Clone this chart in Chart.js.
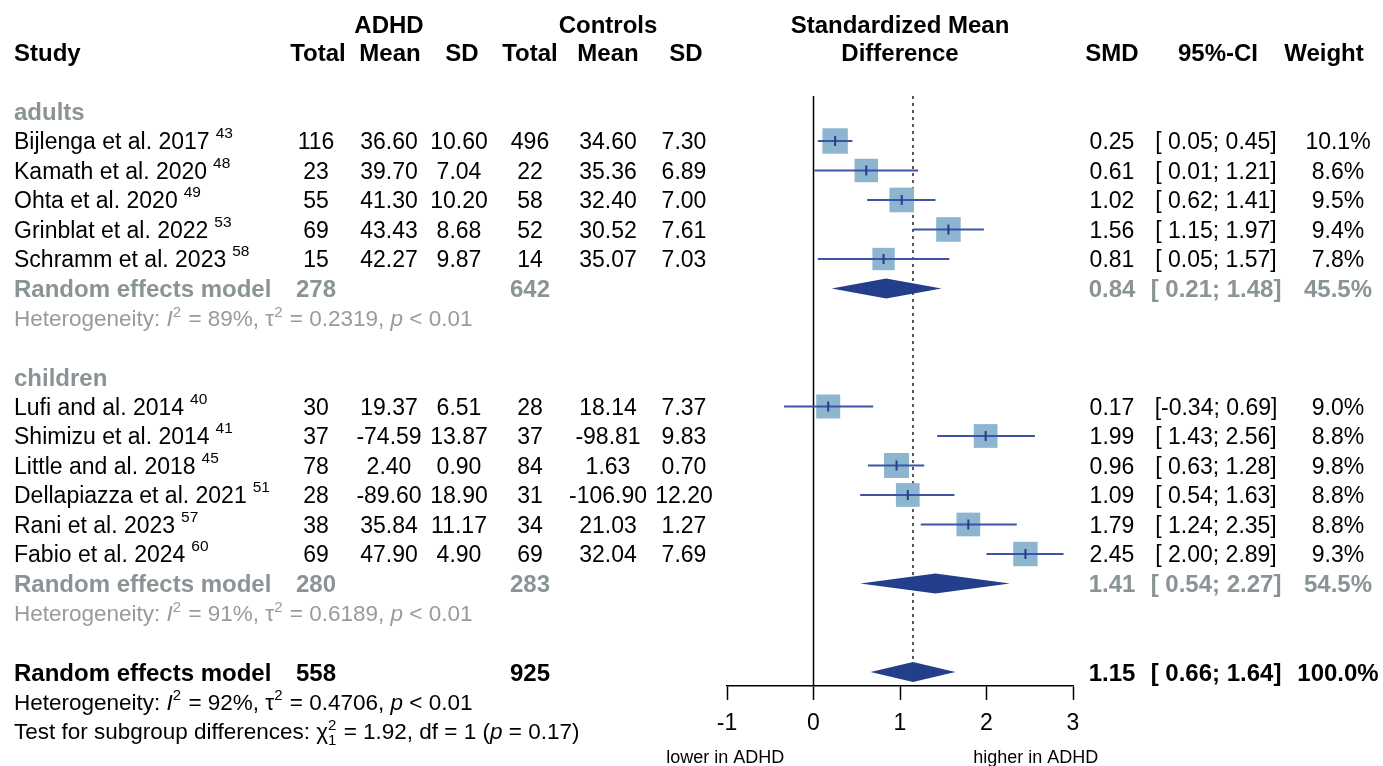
<!DOCTYPE html>
<html>
<head>
<meta charset="utf-8">
<script src="https://cdn.jsdelivr.net/npm/chart.js@4.4.1/dist/chart.umd.min.js"></script>
<style>
  html, body { margin: 0; padding: 0; background: #fff; }
  #wrap { width: 1383px; height: 766px; }
</style>
</head>
<body>
<div id="wrap"><canvas id="forest" width="1383" height="766"></canvas></div>
<script>
// subgroups and studies, top to bottom
const groups = ['adults', 'children'];
const groupSize = [5, 6];
const studies = ['Bijlenga et al. 2017', 'Kamath et al. 2020', 'Ohta et al. 2020', 'Grinblat et al. 2022', 'Schramm et al. 2023',
  'Lufi and al. 2014', 'Shimizu et al. 2014', 'Little and al. 2018', 'Dellapiazza et al. 2021', 'Rani et al. 2023', 'Fabio et al. 2024'];
const refs = ['43', '48', '49', '53', '58', '40', '41', '45', '51', '57', '60'];
const adhdTotal = [116, 23, 55, 69, 15, 30, 37, 78, 28, 38, 69];
const adhdMean = [36.60, 39.70, 41.30, 43.43, 42.27, 19.37, -74.59, 2.40, -89.60, 35.84, 47.90];
const adhdSD = [10.60, 7.04, 10.20, 8.68, 9.87, 6.51, 13.87, 0.90, 18.90, 11.17, 4.90];
const ctrlTotal = [496, 22, 58, 52, 14, 28, 37, 84, 31, 34, 69];
const ctrlMean = [34.60, 35.36, 32.40, 30.52, 35.07, 18.14, -98.81, 1.63, -106.90, 21.03, 32.04];
const ctrlSD = [7.30, 6.89, 7.00, 7.61, 7.03, 7.37, 9.83, 0.70, 12.20, 1.27, 7.69];
const smd = [0.25, 0.61, 1.02, 1.56, 0.81, 0.17, 1.99, 0.96, 1.09, 1.79, 2.45];
const ciLow = [0.05, 0.01, 0.62, 1.15, 0.05, -0.34, 1.43, 0.63, 0.54, 1.24, 2.00];
const ciHigh = [0.45, 1.21, 1.41, 1.97, 1.57, 0.69, 2.56, 1.28, 1.63, 2.35, 2.89];
const weight = [10.1, 8.6, 9.5, 9.4, 7.8, 9.0, 8.8, 9.8, 8.8, 8.8, 9.3];

// subgroup random effects
const subTotalAdhd = [278, 280];
const subTotalCtrl = [642, 283];
const subSmd = [0.84, 1.41];
const subLow = [0.21, 0.54];
const subHigh = [1.48, 2.27];
const subWeight = [45.5, 54.5];
const subI2 = ['89%', '91%'];
const subTau2 = ['0.2319', '0.6189'];

// overall random effects
const allTotalAdhd = 558;
const allTotalCtrl = 925;
const allSmd = 1.15;
const allLow = 0.66;
const allHigh = 1.64;
const allWeight = 100.0;
const allI2 = '92%';
const allTau2 = '0.4706';
const testChi2 = '1.92';
const testDf = '1';
const testP = '0.17';

const xTicks = [-1, 0, 1, 2, 3];

// row numbers (0 = "adults")
const studyRow = [], groupRow = [], subRow = [], hetRow = [];
let row = 0;
groups.forEach((g, gi) => {
  groupRow.push(row++);
  for (let k = 0; k < groupSize[gi]; k++) studyRow.push(row++);
  subRow.push(row++);
  hetRow.push(row++);
  row++;
});
const allRow = row;

const FONT = '"Liberation Sans", Arial, sans-serif';
const GREY = '#8a9395';
const GREY_LIGHT = '#9a9a9a';
const LINE_BLUE = '#3b54a5';
const NAVY = '#233e8b';
const SQUARE = '#8db5d0';

const col = { aT: 316, aM: 389, aS: 459, cT: 530, cM: 608, cS: 684, smd: 1112, ci: 1216, w: 1338 };

const fmtCI = (lo, hi) => '[' + (lo < 0 ? lo.toFixed(2) : ' ' + lo.toFixed(2)) + '; ' + hi.toFixed(2) + ']';
const side = w => 8.0 * Math.sqrt(w);

function put(ctx, s, x, y, size, o = {}) {
  ctx.font = (o.italic ? 'italic ' : '') + (o.bold ? 'bold ' : '') + size + 'px ' + FONT;
  ctx.fillStyle = o.color || '#000';
  ctx.textAlign = o.align || 'left';
  ctx.textBaseline = 'alphabetic';
  ctx.fillText(s, x, y + size * 0.358);
  return ctx.measureText(s).width;
}

function rich(ctx, parts, x, y, size, color) {
  const base = y + size * 0.358;
  const small = Math.round(size * 0.66);
  let cx = x;
  ctx.fillStyle = color;
  ctx.textAlign = 'left';
  ctx.textBaseline = 'alphabetic';
  parts.forEach(([t, kind, extra]) => {
    let w;
    if (kind === 'sup' || kind === 'supsub') {
      ctx.font = small + 'px ' + FONT;
      ctx.fillText(t, cx, base - size * 0.42);
      w = ctx.measureText(t).width;
      if (kind === 'supsub') {
        ctx.fillText(extra, cx, base + size * 0.28);
        w = Math.max(w, ctx.measureText(extra).width);
      }
      w += 1;
    } else {
      ctx.font = (kind === 'i' ? 'italic ' : '') + size + 'px ' + FONT;
      ctx.fillText(t, cx, base);
      w = ctx.measureText(t).width;
    }
    cx += w;
  });
}

const forestExtras = {
  id: 'forestExtras',
  beforeDatasetsDraw(chart) {
    const { ctx, chartArea, scales: { x, y } } = chart;
    ctx.save();
    ctx.strokeStyle = '#000';
    ctx.lineWidth = 1.5;
    ctx.beginPath();
    ctx.moveTo(x.getPixelForValue(0), chartArea.top);
    ctx.lineTo(x.getPixelForValue(0), chartArea.bottom);
    ctx.stroke();
    ctx.setLineDash([3, 4]);
    ctx.strokeStyle = '#222';
    ctx.beginPath();
    ctx.moveTo(x.getPixelForValue(allSmd), chartArea.top);
    ctx.lineTo(x.getPixelForValue(allSmd), y.getPixelForValue(allRow) - 10);
    ctx.stroke();
    ctx.restore();
  },
  afterDatasetsDraw(chart) {
    const { ctx, scales: { x, y } } = chart;
    const diamond = (est, lo, hi, r) => {
      const yy = y.getPixelForValue(r);
      ctx.beginPath();
      ctx.moveTo(x.getPixelForValue(lo), yy);
      ctx.lineTo(x.getPixelForValue(est), yy - 10);
      ctx.lineTo(x.getPixelForValue(hi), yy);
      ctx.lineTo(x.getPixelForValue(est), yy + 10);
      ctx.closePath();
      ctx.fill();
    };
    ctx.save();
    ctx.fillStyle = NAVY;
    subSmd.forEach((v, i) => diamond(v, subLow[i], subHigh[i], subRow[i]));
    diamond(allSmd, allLow, allHigh, allRow);
    ctx.restore();
  },
  afterDraw(chart) {
    const { ctx, scales: { x, y } } = chart;
    const Y = r => y.getPixelForValue(r);
    ctx.save();
    // headers
    const h2 = Y(-2), h1 = h2 - 28;
    put(ctx, 'ADHD', col.aM, h1, 24, { bold: true, align: 'center' });
    put(ctx, 'Controls', col.cM, h1, 24, { bold: true, align: 'center' });
    put(ctx, 'Standardized Mean', 900, h1, 24, { bold: true, align: 'center' });
    put(ctx, 'Study', 14, h2, 24, { bold: true });
    put(ctx, 'Total', col.aT + 2, h2, 24, { bold: true, align: 'center' });
    put(ctx, 'Mean', col.aM + 1, h2, 24, { bold: true, align: 'center' });
    put(ctx, 'SD', col.aS + 3, h2, 24, { bold: true, align: 'center' });
    put(ctx, 'Total', col.cT, h2, 24, { bold: true, align: 'center' });
    put(ctx, 'Mean', col.cM, h2, 24, { bold: true, align: 'center' });
    put(ctx, 'SD', col.cS + 2, h2, 24, { bold: true, align: 'center' });
    put(ctx, 'Difference', 900, h2, 24, { bold: true, align: 'center' });
    put(ctx, 'SMD', col.smd, h2, 24, { bold: true, align: 'center' });
    put(ctx, '95%-CI', col.ci + 2, h2, 24, { bold: true, align: 'center' });
    put(ctx, 'Weight', 1324, h2, 24, { bold: true, align: 'center' });

    let s = 0;
    groups.forEach((g, gi) => {
      put(ctx, g, 14, Y(groupRow[gi]), 24, { bold: true, color: GREY });
      for (let k = 0; k < groupSize[gi]; k++, s++) {
        const yy = Y(studyRow[s]);
        const w = put(ctx, studies[s], 14, yy, 23);
        put(ctx, refs[s], 14 + w + 6, yy - 8.5, 15.5);
        put(ctx, String(adhdTotal[s]), col.aT, yy, 23, { align: 'center' });
        put(ctx, adhdMean[s].toFixed(2), col.aM, yy, 23, { align: 'center' });
        put(ctx, adhdSD[s].toFixed(2), col.aS, yy, 23, { align: 'center' });
        put(ctx, String(ctrlTotal[s]), col.cT, yy, 23, { align: 'center' });
        put(ctx, ctrlMean[s].toFixed(2), col.cM, yy, 23, { align: 'center' });
        put(ctx, ctrlSD[s].toFixed(2), col.cS, yy, 23, { align: 'center' });
        put(ctx, smd[s].toFixed(2), col.smd, yy, 23, { align: 'center' });
        put(ctx, fmtCI(ciLow[s], ciHigh[s]), col.ci, yy, 23, { align: 'center' });
        put(ctx, weight[s].toFixed(1) + '%', col.w, yy, 23, { align: 'center' });
      }
      const ys = Y(subRow[gi]);
      const bg = { bold: true, color: GREY };
      put(ctx, 'Random effects model', 14, ys, 24, bg);
      put(ctx, String(subTotalAdhd[gi]), col.aT, ys, 24, { ...bg, align: 'center' });
      put(ctx, String(subTotalCtrl[gi]), col.cT, ys, 24, { ...bg, align: 'center' });
      put(ctx, subSmd[gi].toFixed(2), col.smd, ys, 24, { ...bg, align: 'center' });
      put(ctx, fmtCI(subLow[gi], subHigh[gi]), col.ci, ys, 24, { ...bg, align: 'center' });
      put(ctx, subWeight[gi].toFixed(1) + '%', col.w, ys, 24, { ...bg, align: 'center' });
      rich(ctx, [['Heterogeneity: ', 'n'], ['I', 'i'], ['2', 'sup'], [' = ' + subI2[gi] + ', ', 'n'], ['\u03c4', 'n'], ['2', 'sup'],
        [' = ' + subTau2[gi] + ', ', 'n'], ['p', 'i'], [' < 0.01', 'n']], 14, Y(hetRow[gi]), 22.5, GREY_LIGHT);
    });

    const ya = Y(allRow);
    const bb = { bold: true };
    put(ctx, 'Random effects model', 14, ya, 24, bb);
    put(ctx, String(allTotalAdhd), col.aT, ya, 24, { ...bb, align: 'center' });
    put(ctx, String(allTotalCtrl), col.cT, ya, 24, { ...bb, align: 'center' });
    put(ctx, allSmd.toFixed(2), col.smd, ya, 24, { ...bb, align: 'center' });
    put(ctx, fmtCI(allLow, allHigh), col.ci, ya, 24, { ...bb, align: 'center' });
    put(ctx, allWeight.toFixed(1) + '%', col.w, ya, 24, { ...bb, align: 'center' });
    rich(ctx, [['Heterogeneity: ', 'n'], ['I', 'i'], ['2', 'sup'], [' = ' + allI2 + ', ', 'n'], ['\u03c4', 'n'], ['2', 'sup'],
      [' = ' + allTau2 + ', ', 'n'], ['p', 'i'], [' < 0.01', 'n']], 14, Y(allRow + 1), 22.5, '#000');
    rich(ctx, [['Test for subgroup differences: ', 'n'], ['\u03c7', 'n'], ['2', 'supsub', '1'],
      [' = ' + testChi2 + ', df = ' + testDf + ' (', 'n'], ['p', 'i'], [' = ' + testP + ')', 'n']], 14, Y(allRow + 2), 22.5, '#000');

    put(ctx, 'lower in ADHD', x.getPixelForValue(-1.02), 757, 18, { align: 'center' });
    put(ctx, 'higher in ADHD', x.getPixelForValue(2.57), 757, 18, { align: 'center' });
    ctx.restore();
  }
};

const ciData = [];
smd.forEach((v, i) => {
  ciData.push({ x: ciLow[i], y: studyRow[i] }, { x: ciHigh[i], y: studyRow[i] }, { x: ciHigh[i], y: null });
});

new Chart(document.getElementById('forest'), {
  type: 'scatter',
  data: {
    datasets: [
      {
        label: 'estimate',
        data: smd.map((v, i) => ({ x: v, y: studyRow[i] })),
        pointStyle: 'line',
        pointRotation: 90,
        pointRadius: 5,
        pointBorderColor: NAVY,
        pointBorderWidth: 2,
        order: 0
      },
      {
        label: 'ci',
        data: ciData,
        showLine: true,
        spanGaps: false,
        borderColor: LINE_BLUE,
        borderWidth: 2,
        pointRadius: 0,
        order: 1
      },
      {
        label: 'studies',
        data: smd.map((v, i) => ({ x: v, y: studyRow[i] })),
        pointStyle: 'rect',
        pointRadius: c => side(weight[c.dataIndex]) / (2 * Math.SQRT1_2),
        pointBackgroundColor: SQUARE,
        pointBorderWidth: 0,
        order: 2
      }
    ]
  },
  options: {
    responsive: false,
    animation: false,
    events: [],
    layout: { padding: { left: 727, right: 310, top: 96, bottom: 0 } },
    plugins: { legend: { display: false }, tooltip: { enabled: false } },
    scales: {
      x: {
        type: 'linear',
        min: -1,
        max: 3,
        afterFit: s => { s.height = 80; },
        afterBuildTicks: s => { s.ticks = xTicks.map(v => ({ value: v })); },
        grid: { drawOnChartArea: false, drawTicks: true, tickLength: 14, tickColor: '#000', tickWidth: 1.5 },
        border: { display: true, color: '#000', width: 1.5 },
        ticks: { color: '#000', padding: 10, font: { family: FONT, size: 23 } }
      },
      y: {
        type: 'linear',
        display: false,
        reverse: true,
        min: -0.525,
        max: 19.475
      }
    }
  },
  plugins: [forestExtras]
});
</script>
</body>
</html>
